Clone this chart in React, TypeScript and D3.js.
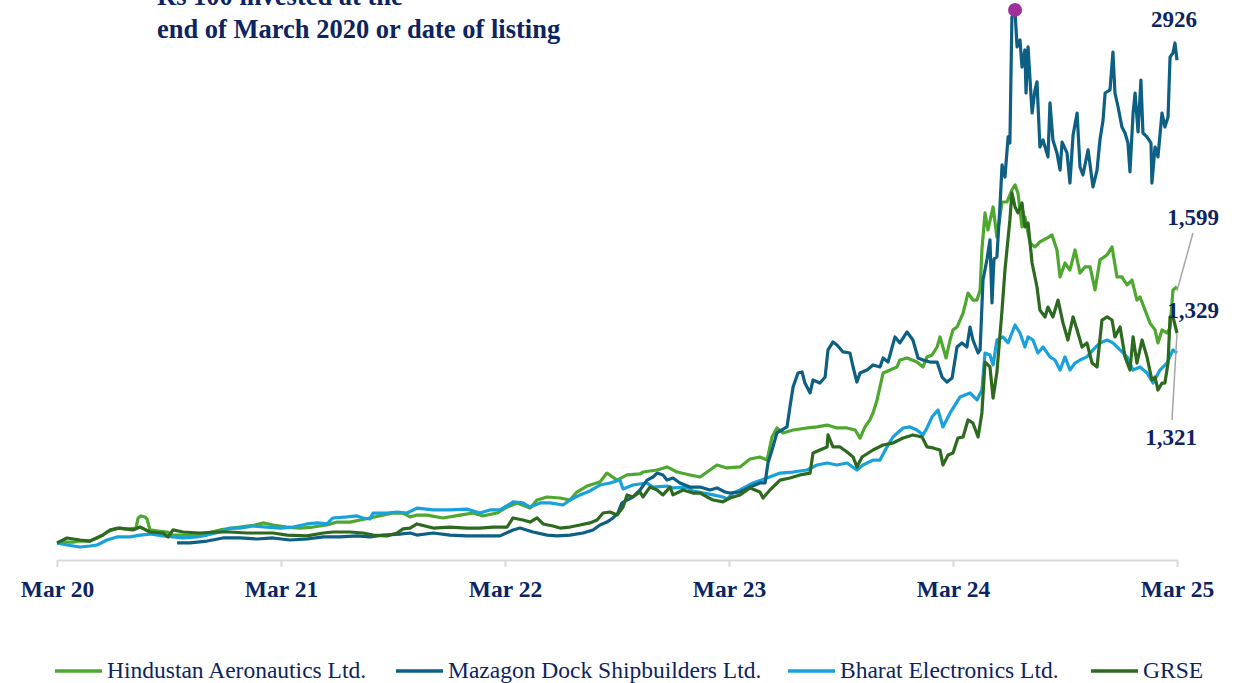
import * as d3 from 'd3';
import { useEffect, useRef } from 'react';

// [years after end of March 2020, value of Rs 100 invested]
const hal: [number, number][] = [
  [0, 100], [0.045, 105], [0.071, 105], [0.103, 111], [0.147, 111], [0.179, 129], [0.205, 146], [0.223, 164],
  [0.268, 187], [0.304, 182], [0.326, 182], [0.353, 187], [0.362, 246], [0.375, 258], [0.393, 252], [0.402, 240],
  [0.415, 176], [0.451, 170], [0.491, 164], [0.518, 146], [0.563, 146], [0.594, 146], [0.638, 152], [0.670, 158],
  [0.728, 176], [0.786, 187], [0.848, 199], [0.884, 205], [0.920, 217], [0.964, 205], [1.027, 193], [1.085, 187],
  [1.143, 193], [1.205, 205], [1.250, 222], [1.308, 222], [1.353, 234], [1.397, 246], [1.455, 263], [1.500, 275],
  [1.545, 275], [1.576, 252], [1.607, 263], [1.652, 263], [1.723, 246], [1.799, 263], [1.857, 275], [1.902, 258],
  [1.964, 275], [2.009, 310], [2.054, 334], [2.112, 304], [2.143, 351], [2.188, 369], [2.246, 363], [2.290, 351],
  [2.321, 398], [2.366, 433], [2.424, 457], [2.455, 509], [2.500, 468], [2.545, 498], [2.603, 504], [2.616, 515],
  [2.679, 527], [2.723, 545], [2.768, 515], [2.826, 498], [2.871, 486], [2.915, 527], [2.946, 556], [2.991, 539],
  [3.049, 545], [3.094, 591], [3.138, 603], [3.170, 585], [3.192, 720], [3.214, 773], [3.241, 744], [3.286, 761],
  [3.348, 773], [3.393, 779], [3.438, 790], [3.482, 773], [3.527, 773], [3.563, 761], [3.585, 714], [3.607, 779],
  [3.629, 820], [3.643, 861], [3.661, 937], [3.674, 1013], [3.688, 1095], [3.719, 1112], [3.750, 1130], [3.763, 1171],
  [3.795, 1183], [3.839, 1159], [3.866, 1130], [3.884, 1189], [3.906, 1200], [3.929, 1247], [3.942, 1306], [3.969, 1183],
  [3.987, 1288], [4.000, 1347], [4.018, 1364], [4.045, 1446], [4.067, 1563], [4.089, 1522], [4.107, 1522], [4.121, 1581],
  [4.129, 1815], [4.143, 2032], [4.156, 1932], [4.179, 2067], [4.196, 1891], [4.219, 2096], [4.241, 2096], [4.263, 2166],
  [4.277, 2196], [4.290, 2149], [4.308, 1950], [4.321, 2008], [4.344, 1856], [4.366, 1833], [4.388, 1862], [4.420, 1885],
  [4.442, 1903], [4.464, 1815], [4.478, 1657], [4.500, 1739], [4.522, 1698], [4.545, 1815], [4.567, 1680], [4.589, 1716],
  [4.612, 1716], [4.634, 1581], [4.656, 1757], [4.688, 1786], [4.710, 1833], [4.732, 1657], [4.754, 1657], [4.777, 1610],
  [4.799, 1639], [4.821, 1522], [4.835, 1540], [4.857, 1464], [4.879, 1388], [4.902, 1347], [4.915, 1271], [4.933, 1347],
  [4.955, 1329], [4.969, 1359], [4.982, 1581], [5.000, 1599],
];

const mazagon: [number, number][] = [
  [0.536, 100], [0.594, 100], [0.670, 111], [0.741, 129], [0.817, 129], [0.893, 123], [0.964, 129], [1.040, 117],
  [1.116, 123], [1.188, 135], [1.263, 135], [1.339, 141], [1.397, 135], [1.455, 146], [1.531, 152], [1.576, 158],
  [1.607, 146], [1.679, 158], [1.754, 146], [1.830, 141], [1.920, 141], [1.978, 141], [2.036, 176], [2.067, 187],
  [2.125, 164], [2.188, 146], [2.232, 141], [2.290, 146], [2.348, 158], [2.393, 176], [2.424, 205], [2.455, 222],
  [2.482, 246], [2.504, 275], [2.522, 334], [2.545, 351], [2.571, 369], [2.603, 410], [2.634, 468], [2.661, 486],
  [2.679, 509], [2.705, 498], [2.723, 468], [2.750, 480], [2.781, 451], [2.826, 427], [2.871, 427], [2.915, 410],
  [2.946, 422], [2.982, 398], [3.004, 392], [3.049, 398], [3.094, 427], [3.138, 451], [3.161, 451], [3.174, 568],
  [3.192, 644], [3.214, 744], [3.259, 779], [3.272, 896], [3.286, 1013], [3.308, 1095], [3.326, 1101], [3.339, 1036],
  [3.362, 978], [3.375, 1054], [3.406, 1036], [3.429, 1071], [3.442, 1230], [3.464, 1276], [3.482, 1259], [3.509, 1218],
  [3.540, 1212], [3.554, 1130], [3.571, 1042], [3.585, 1095], [3.616, 1112], [3.643, 1142], [3.674, 1130], [3.688, 1183],
  [3.710, 1159], [3.741, 1306], [3.763, 1271], [3.795, 1335], [3.821, 1288], [3.844, 1183], [3.866, 1171], [3.897, 1159],
  [3.929, 1159], [3.951, 1071], [3.973, 1042], [3.996, 1066], [4.018, 1247], [4.040, 1271], [4.062, 1247], [4.076, 1364],
  [4.089, 1288], [4.112, 1212], [4.121, 1230], [4.134, 1639], [4.152, 1762], [4.165, 1874], [4.174, 1505], [4.183, 1762],
  [4.196, 1774], [4.210, 2079], [4.219, 2313], [4.232, 2242], [4.246, 2477], [4.254, 2441], [4.263, 3179], [4.277, 3209],
  [4.286, 3004], [4.299, 3045], [4.308, 2886], [4.321, 2986], [4.326, 2734], [4.335, 3004], [4.353, 2617], [4.366, 2752],
  [4.375, 2799], [4.388, 2418], [4.402, 2459], [4.424, 2360], [4.433, 2676], [4.446, 2459], [4.464, 2383], [4.478, 2283],
  [4.487, 2447], [4.509, 2383], [4.522, 2207], [4.536, 2488], [4.554, 2617], [4.567, 2301], [4.580, 2254], [4.603, 2401],
  [4.625, 2184], [4.643, 2283], [4.656, 2459], [4.670, 2576], [4.679, 2734], [4.701, 2752], [4.714, 2974], [4.723, 2734],
  [4.737, 2652], [4.754, 2535], [4.768, 2500], [4.781, 2441], [4.790, 2272], [4.804, 2617], [4.813, 2734], [4.826, 2506],
  [4.839, 2810], [4.848, 2500], [4.866, 2477], [4.884, 2441], [4.888, 2207], [4.902, 2418], [4.915, 2360], [4.933, 2617],
  [4.946, 2535], [4.960, 2594], [4.969, 2945], [4.982, 2968], [4.991, 3027], [5.000, 2926],
];

const bel: [number, number][] = [
  [0, 100], [0.045, 88], [0.103, 76], [0.147, 82], [0.179, 88], [0.223, 117], [0.268, 135], [0.326, 135],
  [0.371, 146], [0.415, 152], [0.473, 141], [0.518, 135], [0.563, 129], [0.625, 135], [0.670, 146], [0.728, 164],
  [0.772, 187], [0.817, 187], [0.875, 199], [0.938, 193], [0.996, 187], [1.054, 193], [1.116, 211], [1.161, 217],
  [1.205, 211], [1.232, 246], [1.295, 252], [1.339, 258], [1.366, 246], [1.397, 240], [1.411, 275], [1.473, 275],
  [1.518, 281], [1.563, 275], [1.607, 304], [1.679, 293], [1.754, 293], [1.830, 298], [1.888, 275], [1.933, 293],
  [1.978, 293], [2.036, 340], [2.080, 334], [2.112, 310], [2.156, 334], [2.201, 334], [2.259, 322], [2.290, 351],
  [2.335, 381], [2.379, 404], [2.424, 439], [2.469, 451], [2.513, 468], [2.527, 416], [2.571, 439], [2.634, 451],
  [2.661, 427], [2.723, 433], [2.750, 422], [2.813, 427], [2.839, 404], [2.929, 381], [2.973, 369], [2.991, 357],
  [3.018, 392], [3.049, 410], [3.107, 451], [3.170, 480], [3.228, 509], [3.286, 515], [3.348, 527], [3.393, 556],
  [3.438, 568], [3.482, 556], [3.527, 568], [3.571, 527], [3.598, 556], [3.643, 585], [3.674, 585], [3.705, 662],
  [3.732, 720], [3.777, 773], [3.808, 779], [3.839, 761], [3.866, 732], [3.884, 773], [3.906, 837], [3.933, 878],
  [3.955, 779], [3.987, 861], [4.031, 954], [4.076, 978], [4.107, 937], [4.129, 995], [4.143, 1212], [4.165, 1200],
  [4.179, 1142], [4.196, 1288], [4.223, 1306], [4.246, 1271], [4.277, 1376], [4.299, 1329], [4.321, 1247], [4.335, 1306],
  [4.357, 1288], [4.379, 1212], [4.402, 1247], [4.433, 1189], [4.455, 1171], [4.478, 1112], [4.500, 1189], [4.522, 1112],
  [4.545, 1153], [4.567, 1171], [4.598, 1189], [4.625, 1230], [4.656, 1271], [4.688, 1288], [4.714, 1271], [4.746, 1230],
  [4.777, 1189], [4.804, 1112], [4.835, 1130], [4.866, 1095], [4.893, 1036], [4.924, 1112], [4.955, 1153], [4.982, 1230],
  [5.000, 1212],
];

const grse: [number, number][] = [
  [0, 100], [0.045, 129], [0.103, 117], [0.147, 111], [0.205, 146], [0.237, 176], [0.281, 187], [0.339, 176],
  [0.371, 193], [0.415, 164], [0.473, 158], [0.496, 135], [0.518, 176], [0.563, 164], [0.638, 158], [0.714, 164],
  [0.772, 164], [0.848, 158], [0.906, 158], [0.964, 158], [1.027, 146], [1.116, 141], [1.188, 158], [1.232, 164],
  [1.308, 164], [1.366, 158], [1.411, 146], [1.473, 141], [1.518, 158], [1.545, 182], [1.576, 187], [1.607, 211],
  [1.679, 187], [1.754, 193], [1.830, 187], [1.888, 187], [1.946, 193], [2.009, 193], [2.036, 246], [2.080, 234],
  [2.112, 222], [2.143, 246], [2.170, 211], [2.214, 199], [2.246, 187], [2.290, 193], [2.335, 205], [2.379, 217],
  [2.411, 234], [2.438, 275], [2.469, 281], [2.500, 263], [2.527, 310], [2.545, 381], [2.571, 369], [2.603, 398],
  [2.616, 369], [2.647, 427], [2.679, 410], [2.705, 381], [2.737, 427], [2.750, 381], [2.795, 410], [2.839, 392],
  [2.871, 392], [2.902, 369], [2.929, 351], [2.973, 340], [3.004, 363], [3.049, 381], [3.094, 422], [3.138, 398],
  [3.152, 363], [3.183, 410], [3.228, 468], [3.272, 480], [3.317, 498], [3.362, 509], [3.375, 626], [3.406, 644],
  [3.438, 662], [3.442, 732], [3.464, 662], [3.496, 662], [3.527, 632], [3.554, 603], [3.571, 545], [3.594, 603],
  [3.643, 644], [3.688, 673], [3.732, 685], [3.777, 714], [3.821, 732], [3.862, 720], [3.884, 662], [3.911, 656],
  [3.942, 644], [3.955, 556], [3.978, 615], [4.000, 626], [4.022, 714], [4.045, 720], [4.067, 820], [4.089, 802],
  [4.112, 720], [4.129, 861], [4.143, 1159], [4.165, 1130], [4.179, 948], [4.196, 1100], [4.219, 1464], [4.232, 1698],
  [4.254, 1991], [4.263, 2149], [4.277, 2067], [4.290, 2032], [4.308, 2090], [4.321, 1950], [4.335, 1973], [4.353, 1739],
  [4.375, 1598], [4.388, 1464], [4.411, 1423], [4.424, 1481], [4.446, 1423], [4.469, 1522], [4.491, 1388], [4.513, 1288],
  [4.536, 1423], [4.554, 1347], [4.576, 1247], [4.598, 1271], [4.621, 1153], [4.643, 1130], [4.665, 1405], [4.688, 1423],
  [4.710, 1405], [4.723, 1306], [4.746, 1364], [4.768, 1189], [4.790, 1112], [4.804, 1306], [4.821, 1153], [4.844, 1288],
  [4.866, 1189], [4.888, 1054], [4.902, 1071], [4.915, 995], [4.933, 1036], [4.946, 1036], [4.960, 1153], [4.969, 1423],
  [4.982, 1423], [5.000, 1329],
];

const seriesNames = ['Hindustan Aeronautics Ltd.', 'Mazagon Dock Shipbuilders Ltd.', 'Bharat Electronics Ltd.', 'GRSE'];
const seriesColors = ['#4ea72e', '#0d6083', '#18a1da', '#2d6a1f'];
const seriesData = [hal, mazagon, bel, grse];
const drawOrder = [0, 2, 1, 3];

const tickYears = [0, 1, 2, 3, 4, 5];
const tickLabels = ['Mar 20', 'Mar 21', 'Mar 22', 'Mar 23', 'Mar 24', 'Mar 25'];

const titleLines = ['Rs 100 invested at the', 'end of March 2020 or date of listing'];

const navy = '#0c2461';
const serif = '"Liberation Serif", "Times New Roman", serif';

export default function App() {
  const axisRef = useRef<SVGGElement>(null);

  const width = 1255;
  const height = 683;
  const axisY = 560;

  const x = d3.scaleLinear().domain([0, 5]).range([57, 1177]);
  const y = d3.scaleLinear().domain([0, 3220]).range([axisY, 10]);

  const line = d3
    .line<[number, number]>()
    .x(d => x(d[0]))
    .y(d => y(d[1]));

  useEffect(() => {
    document.body.style.margin = '0';
    const g = d3.select(axisRef.current);
    g.selectAll('*').remove();
    const axis = d3
      .axisBottom(x)
      .tickValues(tickYears)
      .tickFormat((_d, i) => tickLabels[i])
      .tickSize(7)
      .tickSizeOuter(0)
      .tickPadding(13);
    g.call(axis);
    g.select('.domain').attr('stroke', '#d9d9d9').attr('stroke-width', 2);
    g.selectAll('.tick line').attr('stroke', '#d9d9d9').attr('stroke-width', 2);
    g.selectAll('.tick text')
      .attr('fill', navy)
      .attr('font-family', serif)
      .attr('font-weight', 'bold')
      .attr('font-size', 23.5);
  }, []);

  const peak = d3.greatest(mazagon, d => d[1])!;
  const last = (s: [number, number][]) => s[s.length - 1];

  // legend text starts
  const legendX = [107, 448, 840, 1143];

  return (
    <svg width={width} height={height} style={{ display: 'block', background: '#fff' }}>
      {titleLines.map((t, i) => (
        <text key={t} x={157} y={5 + i * 33} fill={navy} fontFamily={serif} fontWeight="bold" fontSize={26.5}>
          {t}
        </text>
      ))}

      <g ref={axisRef} transform={`translate(0,${axisY})`} />

      {drawOrder.map(i => (
        <path
          key={seriesNames[i]}
          d={line(seriesData[i]) ?? ''}
          fill="none"
          stroke={seriesColors[i]}
          strokeWidth={3.2}
          strokeLinejoin="round"
        />
      ))}

      <circle cx={x(peak[0])} cy={y(peak[1]) - 2} r={7} fill="#a02f9c" />

      {/* end-value labels */}
      <line x1={1193} y1={233} x2={x(last(hal)[0])} y2={y(last(hal)[1]) + 4} stroke="#a6a6a6" strokeWidth={1.5} />
      <line x1={1172} y1={420} x2={x(last(grse)[0])} y2={y(last(grse)[1])} stroke="#a6a6a6" strokeWidth={1.5} />
      <g fill={navy} fontFamily={serif} fontWeight="bold" fontSize={23} textAnchor="middle">
        <text x={1174} y={27}>{d3.format('d')(last(mazagon)[1])}</text>
        <text x={1193} y={225}>{d3.format(',')(last(hal)[1])}</text>
        <text x={1193} y={318}>{d3.format(',')(last(grse)[1])}</text>
        <text x={1171} y={445}>1,321</text>
      </g>

      {seriesNames.map((name, i) => (
        <g key={name} transform={`translate(${legendX[i]},671)`}>
          <line x1={-52} x2={-5} y1={0} y2={0} stroke={seriesColors[i]} strokeWidth={3.5} />
          <text x={0} y={7} fill={navy} fontFamily={serif} fontSize={23.5}>
            {name}
          </text>
        </g>
      ))}
    </svg>
  );
}
